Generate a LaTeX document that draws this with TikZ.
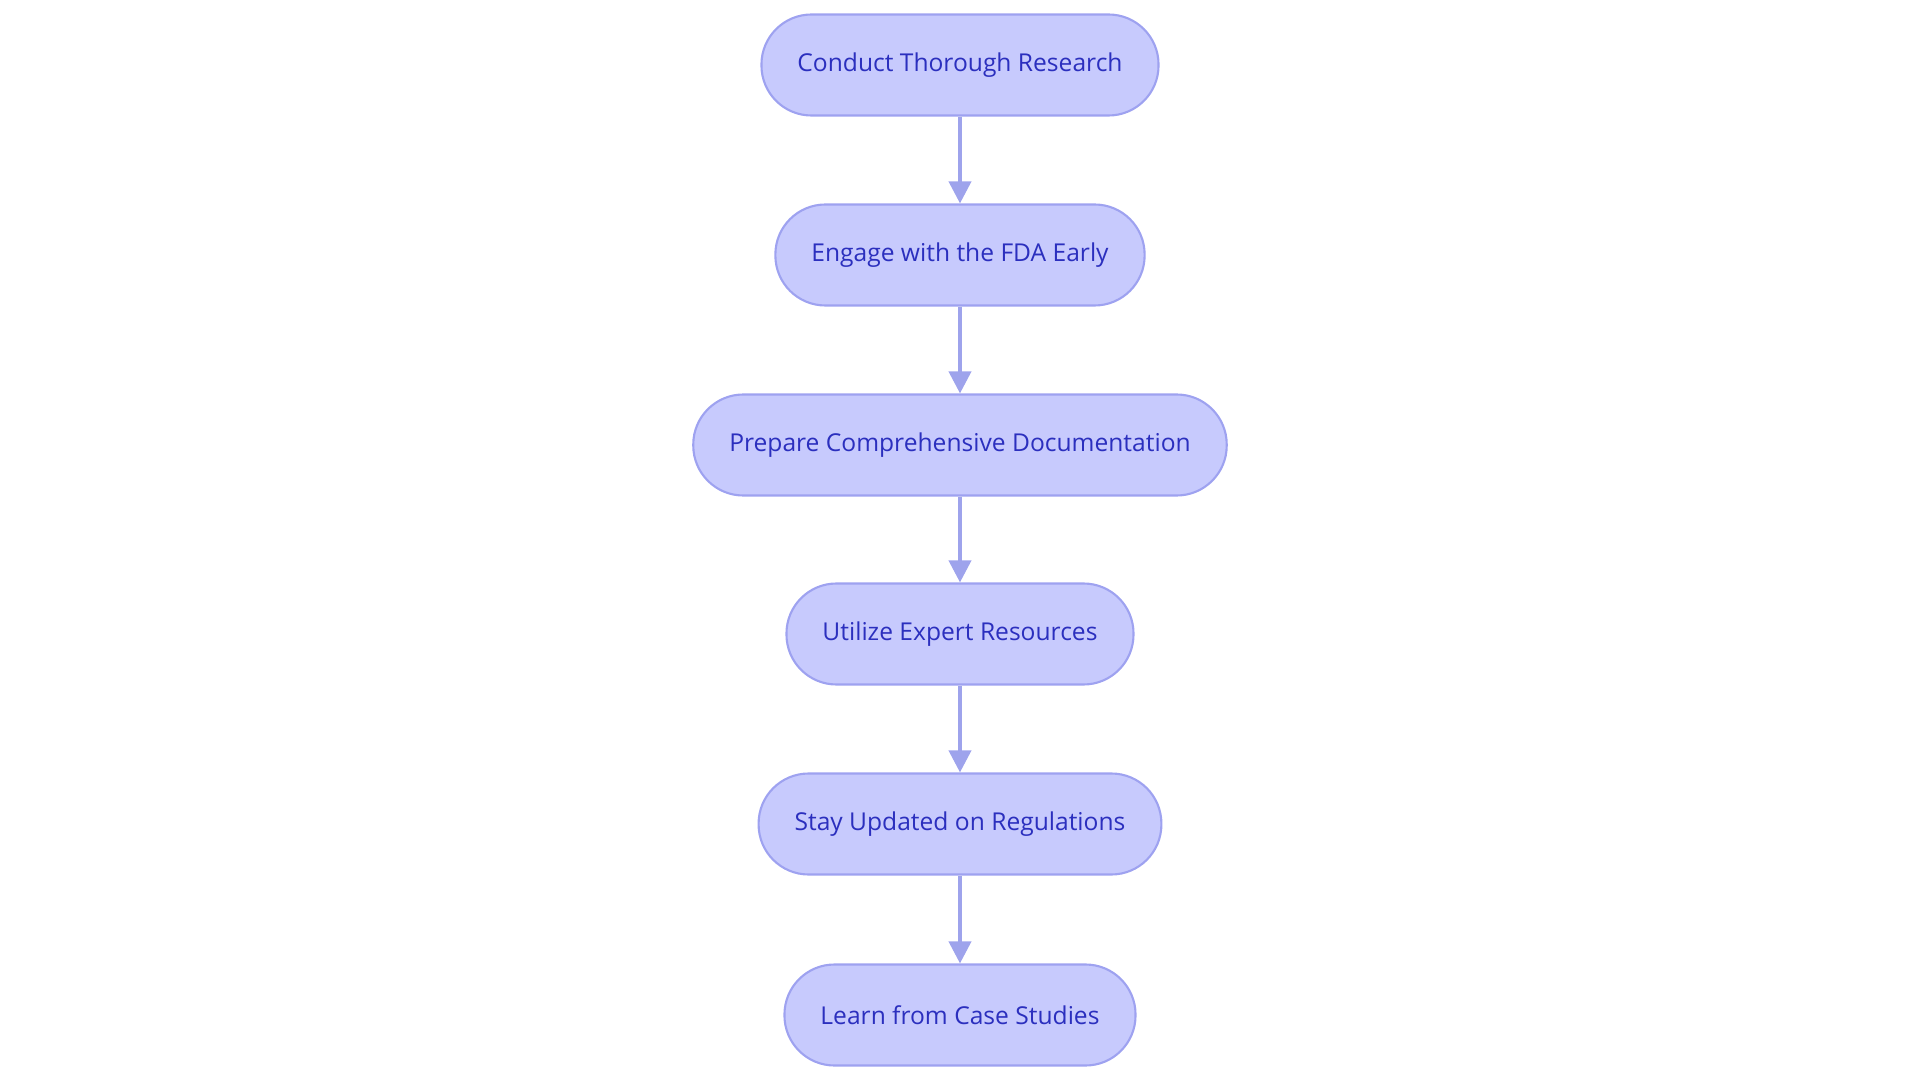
\documentclass[tikz,border=0pt]{standalone}
\usepackage{fontspec}
\setmainfont{Open Sans}
\usetikzlibrary{arrows.meta}
\definecolor{boxfill}{RGB}{199,202,253}
\definecolor{boxline}{RGB}{158,162,240}
\definecolor{boxtext}{RGB}{43,47,190}
\definecolor{arrowc}{RGB}{158,163,236}
\tikzset{st/.append style={draw=boxline,fill=boxfill,text=boxtext,rounded corners=0.5cm,minimum height=1.01cm,inner xsep=0.36cm,line width=0.6pt,font=\fontsize{7}{9}\selectfont}}
\tikzset{ar/.append style={draw=arrowc,line width=1.1pt,-{Triangle[width=0.22cm,length=0.22cm]}}}

\begin{document}
\begin{tikzpicture}
                \useasboundingbox (-9.6,0.65) rectangle (9.6,-10.18);
                \node[st] (res) at (0,0) {Conduct Thorough Research};
                \node[st] (fda) at (0,-1.9) {Engage with the FDA Early};
                \node[st] (doc) at (0,-3.8) {Prepare Comprehensive Documentation};
                \node[st] (exp) at (0,-5.69) {Utilize Expert Resources};
                \node[st] (reg) at (0,-7.59) {Stay Updated on Regulations};
                \node[st] (cas) at (0,-9.5) {Learn from Case Studies};
                \path (res) edge[ar] (fda);
                \path (fda) edge[ar] (doc);
                \path (doc) edge[ar] (exp);
                \path (exp) edge[ar] (reg);
                \path (reg) edge[ar] (cas);
            \end{tikzpicture}
\end{document}
